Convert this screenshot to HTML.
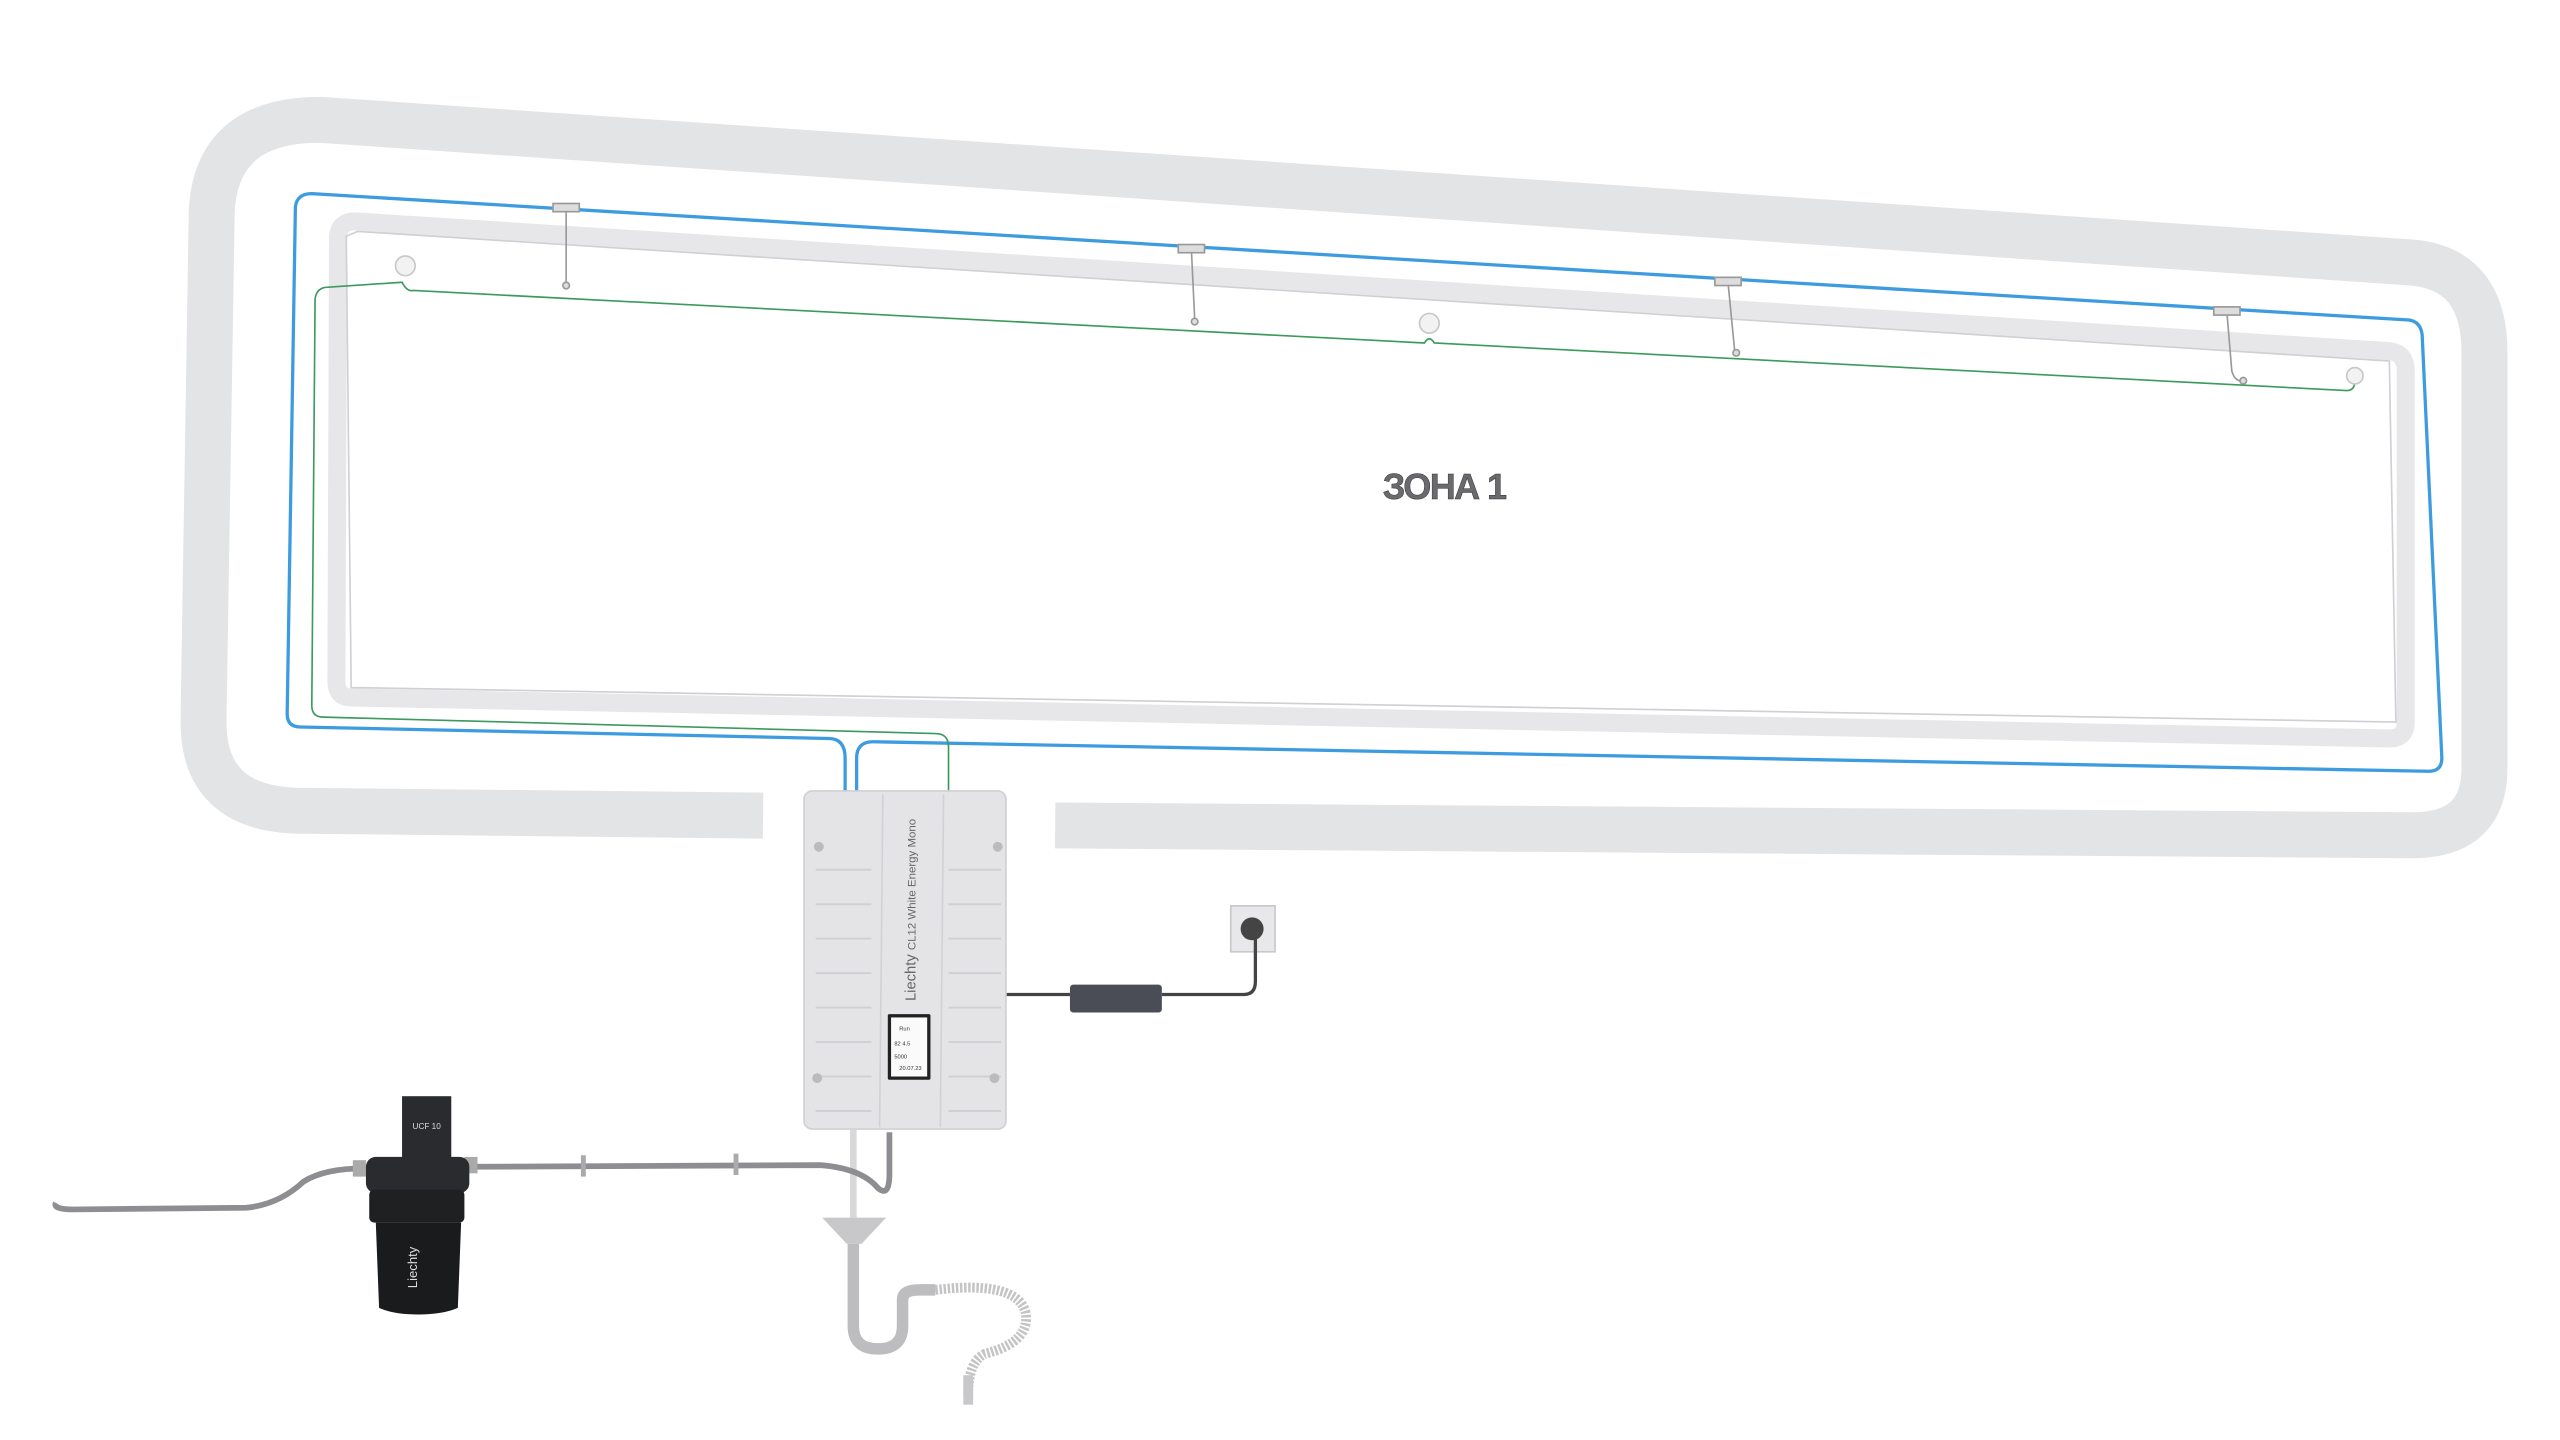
<!DOCTYPE html>
<html><head><meta charset="utf-8"><style>
html,body{margin:0;padding:0;background:#fff;width:2560px;height:1440px;overflow:hidden}
svg{display:block}
</style></head><body>
<svg width="2560" height="1440" viewBox="0 0 1560 877.5" xmlns="http://www.w3.org/2000/svg" font-family="Liberation Sans, sans-serif">
<!-- outer band -->
<path d="M465,497 L180,494 Q124,492 124,440 L129,130 Q131,73 195,73 L1470,160 Q1514,164 1514,215 L1514,468 Q1514,509 1470,509 L643,503" fill="none" stroke="#e3e4e6" stroke-width="28"/>
<!-- inner band -->
<path d="M218,135 L1456,214 Q1466,215 1466,226 L1466,440 Q1466,450 1456,450 L214,425 Q205,425 205,415 L206,144 Q207,134 218,135 Z" fill="none" stroke="#e7e7ea" stroke-width="11"/>
<path d="M218,141 L1456,220 L1460,440 L214,419 L211,144 Z" fill="none" stroke="#cfcfd4" stroke-width="1"/>
<!-- blue line -->
<path d="M515,482 L515,462 Q515,450 505,450 L183,443 Q175,443 175,435 L180,126 Q181,118 190,118 L1468,195 Q1475,196 1476,204 L1488,462 Q1488,470 1480,470 L532,452 Q522,452 522,462 L522,482" fill="none" stroke="#3d9be0" stroke-width="2"/>
<!-- green line -->
<path d="M578,482 L578,455 Q578,447 570,447 L197,437 Q190,437 190,430 L192,182 Q193,175 200,175 L245,172 Q248,178 252,177 L868,209 Q871,204 874,209 L1430,238 Q1435,238 1435,232" fill="none" stroke="#3c9a5e" stroke-width="1"/>
<!-- sensors -->
<g fill="#f2f2f2" stroke="#c8c8c8" stroke-width="1">
<circle cx="247" cy="162" r="6"/><circle cx="871" cy="197" r="6"/><circle cx="1435" cy="229" r="5"/>
</g>
<!-- T fittings & drops -->
<g stroke="#999" stroke-width="1" fill="#ddd">
<path d="M345,127 L345,172" fill="none"/><rect x="337" y="124" width="16" height="5"/><circle cx="345" cy="174" r="2"/>
<path d="M726,152 L728,194" fill="none"/><rect x="718" y="149" width="16" height="5"/><circle cx="728" cy="196" r="2"/>
<path d="M1053,172 L1057,213" fill="none"/><rect x="1045" y="169" width="16" height="5"/><circle cx="1058" cy="215" r="2"/>
<path d="M1357,190 L1360,226 Q1362,233 1367,232" fill="none"/><rect x="1349" y="187" width="16" height="5"/><circle cx="1367" cy="232" r="2"/>
</g>
<!-- zone label -->
<text x="880" y="304" font-size="22" font-weight="bold" text-anchor="middle" fill="#6a6a6e" stroke="#333" stroke-width="0.3" letter-spacing="-1">ЗОНА 1</text>
<!-- socket & adapter -->
<rect x="750" y="552" width="27" height="28" fill="#e8e8ea" stroke="#c8c8cc"/>
<circle cx="763" cy="566" r="7" fill="#444"/>
<path d="M613,606 L652,606 M708,606 L758,606 Q765,606 765,598 L765,572" fill="none" stroke="#444" stroke-width="2"/>
<rect x="652" y="600" width="56" height="17" rx="2" fill="#4a4d55"/>
<!-- main box -->
<rect x="490" y="482" width="123" height="206" rx="5" fill="#e4e4e6" stroke="#d0d0d4"/>
<path d="M538,484 L536,687 M575,484 L573,687" stroke="#d2d2d6" stroke-width="1"/>
<g stroke="#d0d0d4" stroke-width="1.2">
<path d="M497,530H531 M497,551H531 M497,572H531 M497,593H531 M497,614H531 M497,635H531 M497,656H531 M497,677H531"/>
<path d="M578,530H610 M578,551H610 M578,572H610 M578,593H610 M578,614H610 M578,635H610 M578,656H610 M578,677H610"/>
</g>
<g fill="#bbb"><circle cx="499" cy="516" r="3"/><circle cx="608" cy="516" r="3"/><circle cx="498" cy="657" r="3"/><circle cx="606" cy="657" r="3"/></g>
<text transform="translate(558,610) rotate(-90)" font-size="9" fill="#666">Liechty <tspan font-size="7">CL12 White Energy Mono</tspan></text>
<rect x="541" y="618" width="26" height="40" rx="1" fill="#222"/>
<rect x="543" y="620" width="22" height="36" fill="#fafafa"/>
<g font-size="3.5" fill="#333"><text x="548" y="628">Run</text><text x="545" y="637">82  4.5</text><text x="545" y="645">5000</text><text x="548" y="652">20.07.23</text></g>
<!-- drain -->
<path d="M520,688 L520,742" stroke="#d8d8da" stroke-width="4"/>
<path d="M501,742 L540,742 L525,758 L516,758 Z" fill="#c8c8ca"/>
<path d="M520,758 L520,808 Q520,822 535,822 Q550,822 550,808 L550,792 Q550,786 560,786 L570,786" fill="none" stroke="#bdbdc0" stroke-width="7"/>
<path d="M570,786 Q620,780 625,800 Q628,818 600,825 Q590,830 590,850" fill="none" stroke="#c4c4c6" stroke-width="6" stroke-dasharray="1.5,1"/>
<rect x="587" y="838" width="6" height="18" fill="#c8c8ca"/>
<!-- hose -->
<path d="M34,733 Q32,737 45,737 L150,736 Q170,734 185,720 Q198,712 222,712 M285,711 L500,710 Q525,712 535,724 Q542,730 542,715 L542,690" fill="none" stroke="#8d8d92" stroke-width="3.5"/>
<g fill="#aaa"><rect x="354" y="704" width="3" height="13"/><rect x="447" y="703" width="3" height="13"/><rect x="215" y="707" width="8" height="10"/><rect x="283" y="705" width="8" height="10"/></g>
<!-- filter -->
<rect x="245" y="668" width="30" height="40" fill="#2a2b2e"/>
<text x="260" y="688" font-size="5" fill="#ddd" text-anchor="middle">UCF 10</text>
<rect x="223" y="705" width="63" height="22" rx="6" fill="#2a2b2e"/>
<rect x="225" y="725" width="58" height="20" rx="3" fill="#1f2022"/>
<path d="M229,745 L281,745 L279,797 Q270,801 255,801 Q240,801 231,797 Z" fill="#1a1b1d"/>
<text transform="translate(254,785) rotate(-90)" font-size="8" fill="#ddd">Liechty</text>
</svg>
</body></html>
